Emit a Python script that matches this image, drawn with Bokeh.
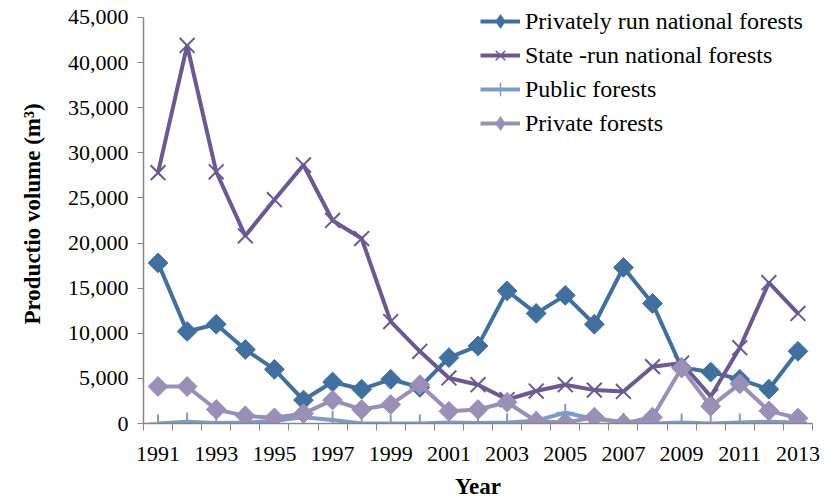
import math
from bokeh.plotting import figure
from bokeh.models import Range1d, FixedTicker, NumeralTickFormatter, Legend, LegendItem
from bokeh.embed import file_html
from bokeh.resources import INLINE

years = list(range(1991, 2014))
privately_run = [17800, 10200, 11000, 8200, 6000, 2600, 4600, 3800, 4900, 4000, 7300, 8600,
                 14700, 12200, 14200, 11000, 17300, 13300, 6200, 5700, 4900, 3800, 8000]
state_run = [27800, 41900, 27900, 20800, 24800, 28650, 22500, 20500, 11300, 8000, 5050, 4300,
             2650, 3600, 4300, 3700, 3550, 6300, 6700, 3000, 8400, 15600, 12200]
public = [0, 200, 50, 100, 300, 700, 400, 0, 0, 0, 100, 50,
          100, 300, 1200, 500, 200, 0, 100, 0, 100, 200, 100]
private = [4100, 4100, 1550, 850, 630, 1100, 2600, 1550, 2100, 4300, 1350, 1550,
           2350, 250, 100, 700, 0, 700, 6150, 1900, 4400, 1400, 600]

y_ticks = [0, 5000, 10000, 15000, 20000, 25000, 30000, 35000, 40000, 45000]
x_label_years = [1991, 1993, 1995, 1997, 1999, 2001, 2003, 2005, 2007, 2009, 2011, 2013]

labels = ["Privately run national forests", "State -run national forests",
          "Public forests", "Private forests"]
colors = ["#41709F", "#6A5A8F", "#7E9CC6", "#9A8FB7"]

FONT = "Liberation Serif"

# frame spans 420 px; the 45,000 tick sits 13 px below the frame top (axis drawn 0..45,000)
Y_MAX = 45000
Y_END = Y_MAX * 420 / 407

p = figure(width=822, height=501, output_backend="svg", toolbar_location=None,
           x_range=Range1d(1990.5, 2013.5), y_range=Range1d(0, Y_END),
           min_border_left=143, min_border_right=10, min_border_top=4, min_border_bottom=77)
p.outline_line_color = None
p.xgrid.visible = False
p.ygrid.visible = False
p.background_fill_color = "white"

series = [privately_run, state_run, public, private]
line_rs = []
legend_marks = []
for i, vals in enumerate(series):
    r = p.line(years, vals, line_color=colors[i], line_width=4)
    line_rs.append(r)
    if i in (0, 3):
        p.scatter(years, vals, marker="square", angle=math.pi / 4, size=14,
                  fill_color=colors[i], line_color=colors[i])
        # legend proxy: an upright diamond hidden inside the first data marker
        lm = p.scatter(years[:1], vals[:1], marker="diamond", size=15,
                       fill_color=colors[i], line_color=colors[i])
    elif i == 1:
        p.scatter(years, vals, marker="x", size=21, line_color=colors[i], line_width=2)
        lm = p.scatter(years[:1], vals[:1], marker="x", size=14, line_color=colors[i], line_width=1.5)
    else:
        p.scatter(years, vals, marker="cross", size=18, line_color=colors[i], line_width=2)
        lm = p.scatter(years[:1], vals[:1], marker="cross", size=14, line_color=colors[i], line_width=1.5)
    legend_marks.append(lm)

items = [LegendItem(label=labels[i], renderers=[line_rs[i], legend_marks[i]]) for i in range(4)]
legend = Legend(items=items, location=(337, 283), label_text_font=FONT,
                label_text_font_size="24px", label_text_color="black",
                glyph_width=40, glyph_height=34, label_height=34, spacing=0,
                label_standoff=5, padding=0, margin=0,
                border_line_color=None, background_fill_alpha=0)
p.add_layout(legend, "center")

p.xaxis.ticker = FixedTicker(ticks=x_label_years, minor_ticks=[y - 0.5 for y in years] + [2013.5])
p.xaxis.major_tick_line_color = None
p.xaxis.minor_tick_line_color = "#868686"
p.xaxis.minor_tick_out = 7
p.xaxis.minor_tick_in = 0
p.xaxis.axis_line_color = "#868686"
p.xaxis.axis_line_width = 1.5
p.xaxis.major_label_text_font = FONT
p.xaxis.major_label_text_font_size = "22px"
p.xaxis.major_label_text_color = "black"
p.xaxis.major_label_standoff = 16
p.xaxis.axis_label = "Year"
p.xaxis.axis_label_text_font = FONT
p.xaxis.axis_label_text_font_size = "23px"
p.xaxis.axis_label_text_font_style = "bold"
p.xaxis.axis_label_text_color = "black"
p.xaxis.axis_label_standoff = 10

p.yaxis.ticker = FixedTicker(ticks=y_ticks, minor_ticks=[])
p.yaxis.bounds = (0, Y_MAX)
p.yaxis.formatter = NumeralTickFormatter(format="0,0")
p.yaxis.major_tick_line_color = "#868686"
p.yaxis.major_tick_out = 6
p.yaxis.major_tick_in = 0
p.yaxis.minor_tick_line_color = None
p.yaxis.axis_line_color = "#868686"
p.yaxis.axis_line_width = 1.5
p.yaxis.major_label_text_font = FONT
p.yaxis.major_label_text_font_size = "22px"
p.yaxis.major_label_text_color = "black"
p.yaxis.major_label_standoff = 9
p.yaxis.axis_label = "Productio volume (m³)"
p.yaxis.axis_label_text_font = FONT
p.yaxis.axis_label_text_font_size = "23px"
p.yaxis.axis_label_text_font_style = "bold"
p.yaxis.axis_label_text_color = "black"
p.yaxis.axis_label_standoff = 20

open("out.html", "w").write(file_html(p, INLINE))
